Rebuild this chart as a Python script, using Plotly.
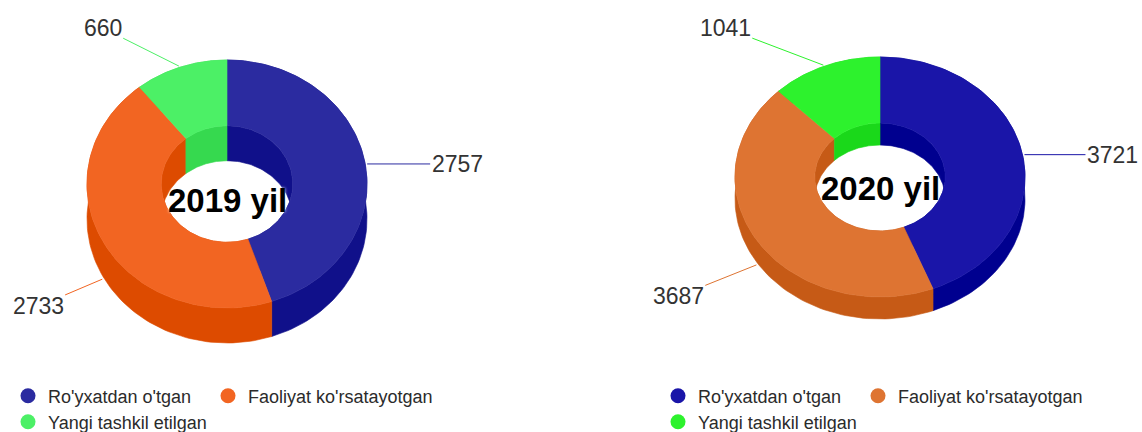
import numpy as np
import plotly.graph_objects as go

# data
categories = ["Ro'yxatdan o'tgan", "Faoliyat ko'rsatayotgan", "Yangi tashkil etilgan"]
years = ["2019 yil", "2020 yil"]
values_2019 = [2757, 2733, 660]
values_2020 = [3721, 3687, 1041]

# styles
colors_2019 = ["#2b2ba0", "#f26522", "#4cf066"]
sides_2019 = ["#10108a", "#dd4b00", "#36d94f"]
colors_2020 = ["#1a15a8", "#de7432", "#2df22d"]
sides_2020 = ["#00008f", "#c65a16", "#1ad81a"]

W, H = 1142, 432
FONT = "Liberation Sans"

charts = [
    dict(values=values_2019, title=years[0], colors=colors_2019, sides=sides_2019,
         cx=227, cy=184, rx=140, ry=124, hole=0.47, depth=35, title_dy=16,
         offsets=[(92, 0), (-66, 28), (-78, -39)], legend_x=8),
    dict(values=values_2020, title=years[1], colors=colors_2020, sides=sides_2020,
         cx=880, cy=177, rx=145, ry=120, hole=0.45, depth=22, title_dy=11,
         offsets=[(90, 0), (-80, 32), (-100, -38)], legend_x=658),
]
# legend slot of each category: (column, row)
legend_slots = [(0, 0), (1, 0), (0, 1)]
legend_rows_y = [396, 422]
legend_col_step = 200


def arc(ch, a0, a1, scale, z, n=90):
    # angles in degrees, clockwise from 12 o'clock
    t = np.radians(np.linspace(90 - a0, 90 - a1, n))
    x = ch["cx"] + ch["rx"] * scale * np.cos(t)
    y = ch["cy"] - ch["ry"] * scale * np.sin(t) + z
    return x, y


def poly(x, y, color):
    return go.Scatter(x=np.append(x, x[0]), y=np.append(y, y[0]), mode="lines",
                      fill="toself", fillcolor=color,
                      line=dict(color=color, width=0.6),
                      hoverinfo="skip", showlegend=False)


def band(ch, a0, a1, scale, color):
    xt, yt = arc(ch, a0, a1, scale, 0)
    xb, yb = arc(ch, a0, a1, scale, ch["depth"])
    return poly(np.concatenate([xt, xb[::-1]]), np.concatenate([yt, yb[::-1]]), color)


fig = go.Figure()
annotations = []
legends = {}
legend_n = 0

for ch in charts:
    vals = np.array(ch["values"], dtype=float)
    ends = np.cumsum(vals) / vals.sum() * 360
    starts = ends - vals / vals.sum() * 360
    # outer side walls
    for a0, a1, c in zip(starts, ends, ch["sides"]):
        fig.add_trace(band(ch, a0, a1, 1.0, c))
    # inner walls
    for a0, a1, c in zip(starts, ends, ch["sides"]):
        fig.add_trace(band(ch, a0, a1, ch["hole"], c))
    # top faces
    for a0, a1, c in zip(starts, ends, ch["colors"]):
        xo, yo = arc(ch, a0, a1, 1.0, 0)
        xi, yi = arc(ch, a0, a1, ch["hole"], 0)
        fig.add_trace(poly(np.concatenate([xo, xi[::-1]]), np.concatenate([yo, yi[::-1]]), c))
    # data labels
    for a0, a1, v, c, (ax, ay) in zip(starts, ends, ch["values"], ch["colors"], ch["offsets"]):
        t = np.radians(90 - (a0 + a1) / 2)
        px = ch["cx"] + ch["rx"] * np.cos(t)
        py = ch["cy"] - ch["ry"] * np.sin(t) + (ch["depth"] if np.sin(t) < 0 else 0)
        annotations.append(dict(x=px, y=py, xref="x", yref="y", text=str(v),
                                showarrow=True, arrowhead=0, arrowwidth=1, arrowcolor=c,
                                ax=ax, ay=ay, standoff=2,
                                font=dict(family=FONT, size=23, color="#333333")))
    # centre title
    annotations.append(dict(x=ch["cx"], y=ch["cy"] + ch["title_dy"], xref="x", yref="y",
                            text=ch["title"], showarrow=False,
                            font=dict(family=FONT, size=33, color="#000000", weight="bold",
                                      shadow="0px 0px 3px #ffffff")))
    # legend entries, one small legend per entry
    for name, c, (col, row) in zip(categories, ch["colors"], legend_slots):
        legend_n += 1
        key = "legend" if legend_n == 1 else "legend%d" % legend_n
        fig.add_trace(go.Scatter(x=[None], y=[None], mode="markers", name=name,
                                 marker=dict(color=c, size=15), legend=key))
        legends[key] = dict(orientation="h", bgcolor="rgba(0,0,0,0)",
                            font=dict(family=FONT, size=18, color="#2b2b2b"),
                            xanchor="left", yanchor="middle", itemclick=False,
                            x=(ch["legend_x"] + col * legend_col_step) / W,
                            y=1 - legend_rows_y[row] / H)

fig.update_layout(
    width=W, height=H,
    margin=dict(l=0, r=0, t=0, b=0, autoexpand=False),
    paper_bgcolor="white", plot_bgcolor="white",
    xaxis=dict(range=[0, W], visible=False, fixedrange=True),
    yaxis=dict(range=[H, 0], visible=False, fixedrange=True),
    annotations=annotations,
    **legends,
)

fig.write_html("out.html", config={"displayModeBar": False},
               post_script="document.body.style.margin='0';")
